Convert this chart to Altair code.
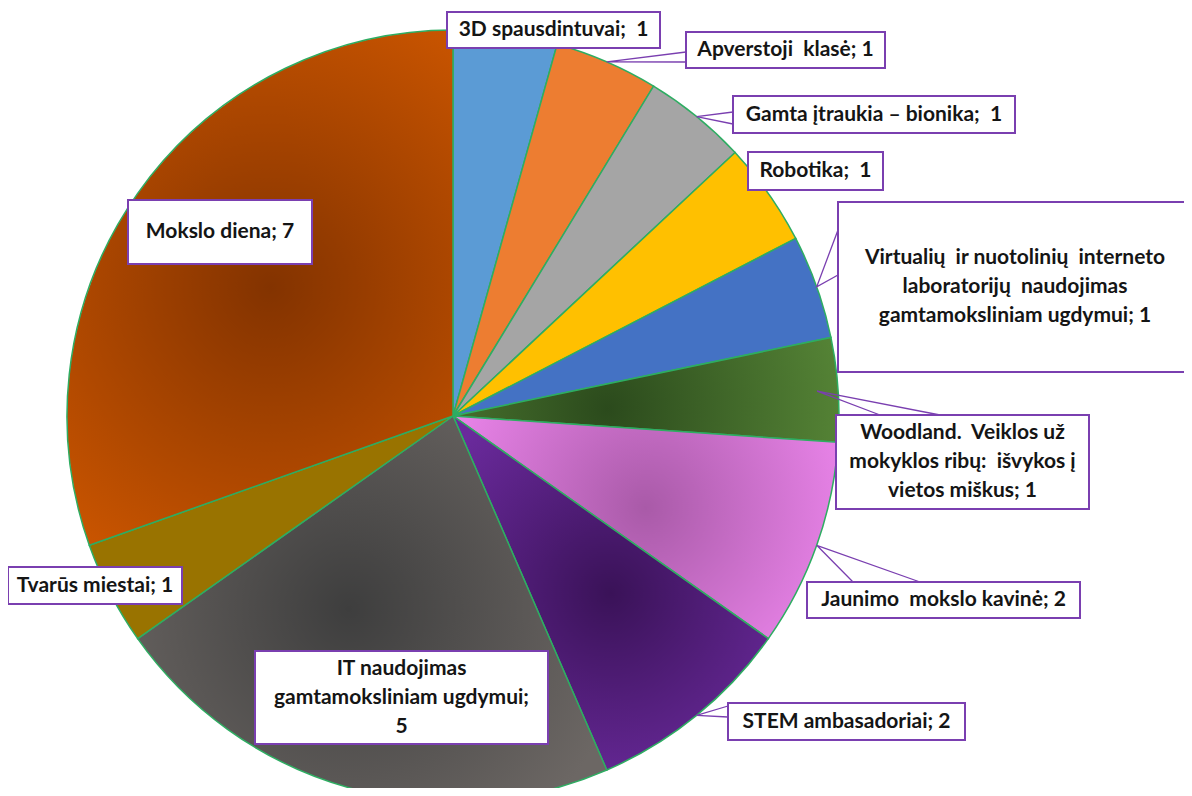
import altair as alt
import pandas as pd
import numpy as np

# ---------------- data ----------------
categories = [
    "3D spausdintuvai",
    "Apverstoji klasė",
    "Gamta įtraukia – bionika",
    "Robotika",
    "Virtualių ir nuotolinių interneto laboratorijų naudojimas gamtamoksliniam ugdymui",
    "Woodland. Veiklos už mokyklos ribų: išvykos į vietos miškus",
    "Jaunimo mokslo kavinė",
    "STEM ambasadoriai",
    "IT naudojimas gamtamoksliniam ugdymui",
    "Tvarūs miestai",
    "Mokslo diena",
]
values = [1, 1, 1, 1, 1, 1, 2, 2, 5, 1, 7]

label_texts = [
    ["3D spausdintuvai;\u00a0 1"],
    ["Apverstoji\u00a0 klasė; 1"],
    ["Gamta įtraukia – bionika;\u00a0 1"],
    ["Robotika;\u00a0 1"],
    ["Virtualių\u00a0 ir nuotolinių\u00a0 interneto", "laboratorijų\u00a0 naudojimas", "gamtamoksliniam ugdymui; 1"],
    ["Woodland.\u00a0 Veiklos už", "mokyklos ribų:\u00a0 išvykos į", "vietos miškus; 1"],
    ["Jaunimo\u00a0 mokslo kavinė; 2"],
    ["STEM ambasadoriai; 2"],
    ["IT naudojimas", "gamtamoksliniam ugdymui;", "5"],
    ["Tvarūs miestai; 1"],
    ["Mokslo diena; 7"],
]

# ---------------- styles / layout ----------------
OFF = 8  # page margin
CX, CY, R = 453 - OFF, 416 - OFF, 386


def radial(inner, outer, cx=0.5, cy=0.5, r=0.55):
    return {
        "gradient": "radial",
        "x1": cx, "y1": cy, "r1": 0,
        "x2": cx, "y2": cy, "r2": r,
        "stops": [{"offset": 0, "color": inner}, {"offset": 1, "color": outer}],
    }


fills = [
    "#5B9BD5",
    "#ED7D31",
    "#A5A5A5",
    "#FFC000",
    "#4472C4",
    radial("#2B4A1C", "#548235", 0.4, 0.55, 0.6),
    radial("#A95AA8", "#F088F0", 0.5, 0.45, 0.6),
    radial("#3A1258", "#6A2A9C", 0.5, 0.5, 0.6),
    radial("#3E3E3E", "#6C6764", 0.45, 0.5, 0.6),
    "#997300",
    radial("#833300", "#C85400", 0.52, 0.5, 0.6),
]

# label boxes in page pixel coords: left, top, right, bottom (same order as categories)
boxes = [
    (447, 12, 660, 48),
    (686, 32, 885, 68),
    (733, 96, 1015, 133),
    (748, 152, 883, 190),
    (838, 202, 1200, 372),
    (836, 415, 1089, 509),
    (807, 582, 1080, 618),
    (728, 703, 965, 740),
    (255, 651, 548, 744),
    (8, 567, 182, 604),
    (128, 200, 312, 264),
]
# callout wedge bases (two points on the box border) and tip radius
wedges = {
    1: ((686, 52), (686, 62), R),
    2: ((733, 112), (733, 124), R),
    4: ((838, 230), (838, 275), R),
    5: ((880, 415), (940, 415), 365),
    6: ((853, 582), (920, 582), R),
    7: ((728, 706), (728, 717), R),
}

total = sum(values)
df = pd.DataFrame({"idx": list(range(len(categories))), "cat": categories, "value": values})

base = (
    alt.Chart(df)
    .transform_window(cum="sum(value)", frame=[None, 0], sort=[{"field": "idx"}])
    .transform_calculate(start="datum.cum - datum.value")
)

layers = []
for i, c in enumerate(categories):
    layers.append(
        base.transform_filter(alt.datum.idx == i)
        .mark_arc(radius=R, fill=fills[i], stroke="#2EAD62", strokeWidth=1.5)
        .encode(
            theta=alt.Theta("start:Q", scale=alt.Scale(domain=[0, total])),
            theta2="cum:Q",
            x=alt.value(CX),
            y=alt.value(CY),
        )
    )

# wedge callouts
cum = np.cumsum(values)
wrows = []
for i, (b1, b2, rr) in wedges.items():
    mid = (cum[i] - values[i] / 2) / total * 2 * np.pi
    tx = CX + rr * np.sin(mid)
    ty = CY - rr * np.cos(mid)
    wrows += [
        {"w": i, "o": 0, "px": b1[0] - OFF, "py": b1[1] - OFF},
        {"w": i, "o": 1, "px": tx, "py": ty},
        {"w": i, "o": 2, "px": b2[0] - OFF, "py": b2[1] - OFF},
    ]
wdf = pd.DataFrame(wrows)
wedge_layer = (
    alt.Chart(wdf)
    .mark_line(stroke="#7A3FB0", strokeWidth=1.3)
    .encode(
        x=alt.X("px:Q", scale=None),
        y=alt.Y("py:Q", scale=None),
        detail="w:N",
        order="o:Q",
    )
)

bdf = pd.DataFrame(
    {
        "x1": [b[0] - OFF for b in boxes],
        "y1": [b[1] - OFF for b in boxes],
        "x2": [b[2] - OFF for b in boxes],
        "y2": [b[3] - OFF for b in boxes],
    }
)
box_layer = (
    alt.Chart(bdf)
    .mark_rect(fill="white", stroke="#7A3FB0", strokeWidth=2)
    .encode(
        x=alt.X("x1:Q", scale=None),
        x2="x2",
        y=alt.Y("y1:Q", scale=None),
        y2="y2",
    )
)

trows = []
for i, b in enumerate(boxes):
    right = b[2] if b[2] <= 1192 else 1192
    trows.append(
        {
            "tx": (b[0] + right) / 2 - OFF,
            "ty": (b[1] + b[3]) / 2 - OFF,
            "txt": "\n".join(label_texts[i]),
            "n": len(label_texts[i]),
        }
    )
tdf = pd.DataFrame(trows)
text_layer = (
    alt.Chart(tdf)
    .transform_calculate(ty2="datum.ty - (datum.n - 1) * 14.5")
    .mark_text(
        font="Lato",
        fontSize=21,
        fontWeight="bold",
        color="#151515",
        lineBreak="\n",
        lineHeight=29,
        align="center",
        baseline="middle",
    )
    .encode(
        x=alt.X("tx:Q", scale=None),
        y=alt.Y("ty2:Q", scale=None),
        text="txt:N",
    )
)

chart = (
    alt.layer(*layers, wedge_layer, box_layer, text_layer)
    .properties(width=1176, height=780, padding=0, autosize=alt.AutoSizeParams(type="none"))
    .configure_view(stroke=None)
)

chart.save("out.html", embed_options={"renderer": "svg", "actions": False})
